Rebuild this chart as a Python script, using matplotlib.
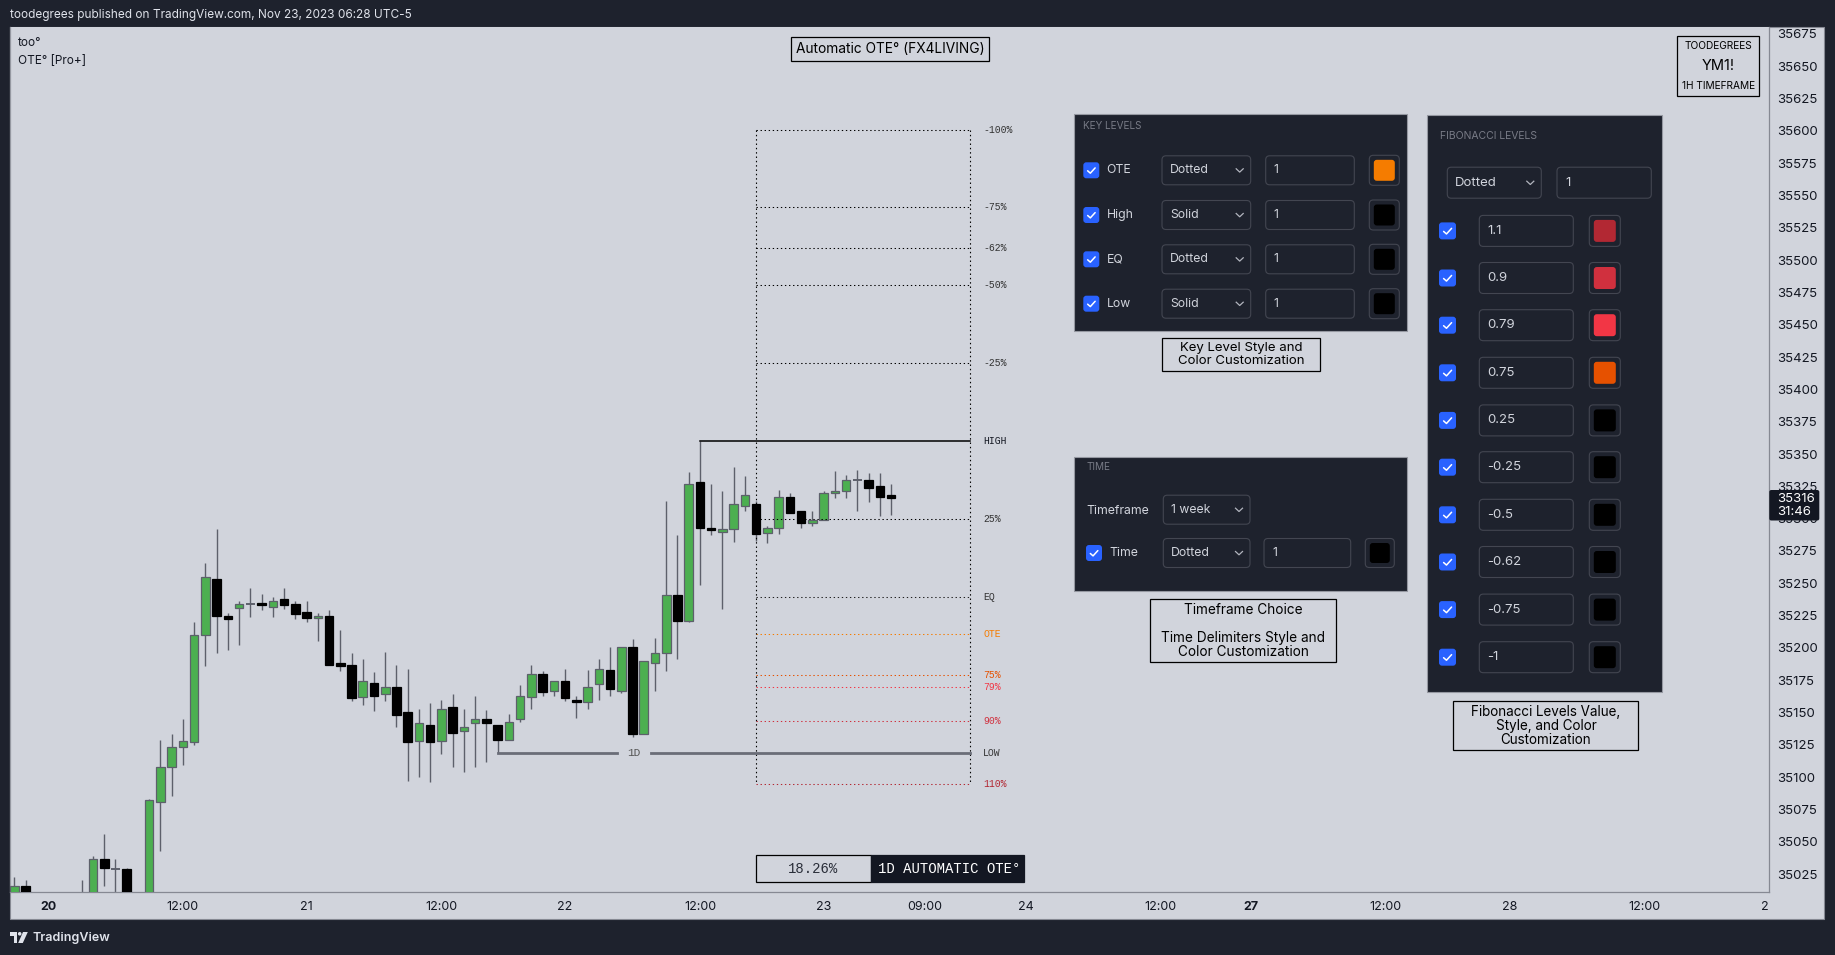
import matplotlib
matplotlib.use("Agg")
import matplotlib.pyplot as plt
from matplotlib.patches import Rectangle, FancyBboxPatch, Circle, Polygon

plt.rcParams['font.family'] = ['Inter', 'DejaVu Sans']

W, H = 1835, 955
DARK = '#1e222d'
DARKER = '#131722'
LIGHT = '#d1d4dc'
GREEN = '#4caf50'
WICK = '#5d606b'
TXT = '#d1d4dc'
MUTED = '#787b86'
MONO = 'Liberation Mono'

# hourly candles, index 0 = Nov 20 00:00 (UTC-5), one bar per trading hour
bar_index = list(range(-3, 76))
opens = [35005, 35016, 34998, 34992, 35000, 34996, 35003, 35008, 35037, 35029,
         35029, 34990, 35000, 35081, 35108, 35123, 35127, 35210, 35253, 35225,
         35231, 35234, 35235, 35232, 35238, 35234, 35228, 35223, 35225, 35188,
         35187, 35162, 35173, 35164, 35170, 35150, 35128, 35140, 35128, 35154,
         35136, 35142, 35145, 35140, 35129, 35145, 35162, 35180, 35167, 35174,
         35160, 35158, 35172, 35183, 35167, 35201, 35133, 35188, 35196, 35241,
         35221, 35328, 35293, 35290, 35292, 35310, 35311, 35289, 35293, 35317,
         35306, 35297, 35299, 35320, 35321, 35330, 35330, 35325, 35318]
highs = [35023, 35020, 35008, 35005, 35009, 35008, 35020, 35039, 35056, 35037,
         35030, 35008, 35083, 35129, 35133, 35145, 35220, 35266, 35292, 35227,
         35236, 35246, 35242, 35239, 35246, 35236, 35236, 35227, 35229, 35214,
         35196, 35191, 35181, 35197, 35187, 35184, 35153, 35157, 35160, 35164,
         35153, 35163, 35152, 35140, 35149, 35171, 35187, 35182, 35174, 35184,
         35163, 35183, 35191, 35201, 35201, 35207, 35190, 35208, 35314, 35287,
         35336, 35360, 35327, 35321, 35340, 35333, 35314, 35294, 35322, 35320,
         35306, 35306, 35321, 35337, 35334, 35338, 35335, 35335, 35327]
lows = [34995, 34990, 34985, 34980, 34988, 34985, 34995, 35000, 35016, 35005,
        34985, 34978, 34995, 35043, 35085, 35109, 35125, 35186, 35196, 35198,
        35202, 35224, 35229, 35224, 35230, 35222, 35220, 35205, 35187, 35182,
        35159, 35156, 35151, 35159, 35139, 35097, 35100, 35096, 35118, 35108,
        35104, 35108, 35112, 35119, 35129, 35143, 35153, 35163, 35163, 35159,
        35146, 35153, 35160, 35163, 35165, 35131, 35133, 35167, 35182, 35191,
        35220, 35249, 35287, 35230, 35282, 35306, 35283, 35281, 35288, 35304,
        35293, 35294, 35299, 35316, 35316, 35306, 35313, 35302, 35303]
closes = [35016, 34998, 34992, 35000, 34996, 35003, 35008, 35037, 35030, 35029,
          34990, 35000, 35082, 35108, 35123, 35128, 35210, 35255, 35225, 35222,
          35234, 35234, 35233, 35236, 35233, 35226, 35223, 35225, 35187, 35186,
          35161, 35174, 35163, 35170, 35148, 35127, 35142, 35127, 35153, 35134,
          35139, 35145, 35142, 35129, 35143, 35163, 35180, 35166, 35174, 35161,
          35158, 35170, 35184, 35168, 35201, 35133, 35190, 35196, 35241, 35221,
          35327, 35293, 35291, 35292, 35311, 35318, 35288, 35293, 35317, 35304,
          35297, 35299, 35320, 35321, 35330, 35330, 35324, 35317, 35316]

# indicator settings: previous daily session and the projection window
session_start, session_end = 40, 62
proj_start, proj_end = 63, 82
ote_ratio = 0.62
eq_ratio = 0.5

fib_values = [1.1, 0.9, 0.79, 0.75, 0.25, -0.25, -0.5, -0.62, -0.75, -1]
fib_colors = ['#b22833', '#d0303e', '#f23645', '#e65100', '#000000',
              '#000000', '#000000', '#000000', '#000000', '#000000']
fib_text_colors = ['#b22833', '#d0303e', '#f23645', '#e65100', '#333333',
                   '#333333', '#333333', '#333333', '#333333', '#333333']

key_levels = ['OTE', 'High', 'EQ', 'Low']
key_styles = ['Dotted', 'Solid', 'Dotted', 'Solid']
key_colors = ['#f57c00', '#000000', '#000000', '#000000']

price_ticks = [35025, 35050, 35075, 35100, 35125, 35150, 35175, 35200, 35225,
               35250, 35275, 35300, 35325, 35350, 35375, 35400, 35425, 35450,
               35475, 35500, 35525, 35550, 35575, 35600, 35625, 35650, 35675]
time_tick_pos = [0, 12, 23, 35, 46, 58, 69, 78, 87, 99, 107, 119, 130, 142, 152.7]
time_tick_lab = ['20', '12:00', '21', '12:00', '22', '12:00', '23', '09:00',
                 '24', '12:00', '27', '12:00', '28', '12:00', '2']

# ---------------------------------------------------------------- figure
fig = plt.figure(figsize=(W / 100, H / 100), dpi=100)
fig.patch.set_facecolor(DARK)

bg = fig.add_axes([0, 0, 1, 1])
bg.set_xlim(0, W)
bg.set_ylim(0, H)
bg.axis('off')
bg.set_zorder(0)
bg.add_patch(Rectangle((10, H - 919), 1814, 892, fc=LIGHT, ec='#868993', lw=0.8))

ax = fig.add_axes([10 / W, (H - 892) / H, 1759 / W, 865 / H])
ax.set_zorder(1)
ax.set_facecolor(LIGHT)
ax.set_xlim(-3.385, 153.11)
ax.set_ylim(35011.1, 35680.4)

# candles
for i, o, h, l, c in zip(bar_index, opens, highs, lows, closes):
    ax.vlines(i, l, h, color=WICK, lw=1.0, zorder=2)
    if c > o:
        ax.add_patch(Rectangle((i - 0.38, o), 0.76, c - o, fc=GREEN, ec=WICK, lw=0.9, zorder=3))
    elif c < o:
        ax.add_patch(Rectangle((i - 0.38, c), 0.76, o - c, fc='black', ec='black', lw=0.9, zorder=3))
    else:
        ax.hlines(o, i - 0.38, i + 0.38, color=WICK, lw=1.4, zorder=3)

# OTE projection
day_high = max(highs[session_start + 3:session_end + 4])
day_low = min(lows[session_start + 3:session_end + 4])
rng = day_high - day_low


def level(r):
    return day_high - r * rng


dot = (0, (1.3, 2.6))
for r, col in zip(fib_values, fib_colors):
    ax.plot([proj_start, proj_end], [level(r)] * 2, color=col, lw=0.75, ls=dot, zorder=4)
ax.plot([proj_start, proj_end], [level(eq_ratio)] * 2, color='#222222', lw=0.75, ls=dot, zorder=4)
ax.plot([proj_start, proj_end], [level(ote_ratio)] * 2, color='#f57c00', lw=0.75, ls=dot, zorder=4)
for xv in (proj_start, proj_end):
    ax.plot([xv, xv], [level(-1), level(1.1)], color='black', lw=0.8, ls=dot, zorder=4)

hi_bar = bar_index[highs.index(day_high)]
lo_bar = bar_index[lows.index(day_low)]
ax.plot([hi_bar, proj_end], [day_high] * 2, color='black', lw=1.1, zorder=4)
ax.plot([lo_bar, 50.6], [day_low] * 2, color='#6a6d78', lw=2.0, zorder=4)
ax.plot([53.6, proj_end], [day_low] * 2, color='#6a6d78', lw=2.0, zorder=4)
ax.text(52.1, day_low, '1D', family=MONO, fontsize=8, color='#555555',
        ha='center', va='center', zorder=5)

lx = proj_end + 1.2
for r, col in zip(fib_values, fib_text_colors):
    ax.text(lx, level(r), f"{round(r * 100)}%", family=MONO, fontsize=7,
            color=col, va='center', zorder=5)
ax.text(lx, day_high, 'HIGH', family=MONO, fontsize=7, color='#131722', va='center')
ax.text(lx, day_low, 'LOW', family=MONO, fontsize=7, color='#333333', va='center')
ax.text(lx, level(eq_ratio), 'EQ', family=MONO, fontsize=7, color='#333333', va='center')
ax.text(lx, level(ote_ratio), 'OTE', family=MONO, fontsize=7, color='#f57c00', va='center')

# axes cosmetics
ax.yaxis.tick_right()
ax.set_yticks(price_ticks)
ax.set_yticklabels([str(p) for p in price_ticks])
ax.tick_params(axis='y', length=0, pad=5.8, labelsize=9.5, labelcolor='#131722')
ax.set_xticks(time_tick_pos)
ax.set_xticklabels(time_tick_lab)
ax.tick_params(axis='x', length=0, pad=6.7, labelsize=9, labelcolor='#131722')
for t in ax.get_xticklabels():
    if t.get_text() in ('20', '27'):
        t.set_fontweight('bold')
ax.spines['top'].set_visible(False)
ax.spines['left'].set_color('#9598a1')
ax.spines['bottom'].set_color('#868993')
ax.spines['right'].set_color('#868993')
for s in ('left', 'bottom', 'right'):
    ax.spines[s].set_linewidth(0.9)

# ---------------------------------------------------------------- overlay
ov = fig.add_axes([0, 0, 1, 1], facecolor='none')
ov.set_xlim(0, W)
ov.set_ylim(0, H)
ov.axis('off')
ov.set_zorder(2)


def rbox(x0, y0, x1, y1, fc, ec='none', lw=0.8, r=0.0, z=3):
    if r > 0:
        p = FancyBboxPatch((x0, H - y1), x1 - x0, y1 - y0,
                           boxstyle=f"round,pad=0,rounding_size={r}",
                           fc=fc, ec=ec, lw=lw, zorder=z)
    else:
        p = Rectangle((x0, H - y1), x1 - x0, y1 - y0, fc=fc, ec=ec, lw=lw, zorder=z)
    ov.add_patch(p)


def label(x, y, s, size=9, color='#131722', ha='left', **kw):
    ov.text(x, H - y, s, fontsize=size, color=color, ha=ha, va='center', zorder=6, **kw)


def checkbox(x0, cy, s):
    rbox(x0, cy - s / 2, x0 + s, cy + s / 2, '#2962ff', r=3, z=4)
    ov.plot([x0 + 0.27 * s, x0 + 0.44 * s, x0 + 0.74 * s],
            [H - (cy + 0.03 * s), H - (cy + 0.18 * s), H - (cy - 0.15 * s)],
            color='white', lw=1.1, zorder=5, solid_capstyle='round')


def dropdown(x0, x1, cy, h, s, size=8.8):
    rbox(x0, cy - h / 2, x1, cy + h / 2, DARK, '#434651', lw=0.8, r=4, z=4)
    label(x0 + 8, cy, s, size=size, color=TXT)
    cx = x1 - 11
    ov.plot([cx - 3.5, cx, cx + 3.5], [H - (cy - 1.5), H - (cy + 1.8), H - (cy - 1.5)],
            color='#b2b5be', lw=0.9, zorder=5)


def field(x0, x1, cy, h, s, size=8.8):
    rbox(x0, cy - h / 2, x1, cy + h / 2, DARK, '#434651', lw=0.8, r=4, z=4)
    label(x0 + 8, cy, s, size=size, color=TXT)


def swatch(x0, cy, s, col):
    rbox(x0, cy - s / 2, x0 + s, cy + s / 2, DARK, '#434651', lw=0.8, r=4, z=4)
    rbox(x0 + 4.5, cy - s / 2 + 4.5, x0 + s - 4.5, cy + s / 2 - 4.5, col, r=3, z=5)


# header / footer
label(9.6, 15, 'toodegrees published on TradingView.com, Nov 23, 2023 06:28 UTC-5',
      size=8.5, color='#e0e3eb')
label(18, 43, 'too°', size=8.5)
label(18, 61, 'OTE° [Pro+]', size=8.5)
logo = '#e0e3eb'
ov.add_patch(Polygon([(9.5, H - 932), (17, H - 932), (17, H - 943), (13.5, H - 943),
                      (13.5, H - 935.5), (9.5, H - 935.5)], fc=logo, ec='none', zorder=5))
ov.add_patch(Circle((19.7, H - 933.8), 1.8, fc=logo, ec='none', zorder=5))
ov.add_patch(Polygon([(23, H - 932), (27.8, H - 932), (22.8, H - 943), (18.2, H - 943)],
                     fc=logo, ec='none', zorder=5))
label(32.5, 937.5, 'TradingView', size=9, color='#e0e3eb', fontweight='semibold')

# title boxes
rbox(791, 37.5, 989, 61, LIGHT, 'black', lw=0.9)
label(890, 49.2, 'Automatic OTE° (FX4LIVING)', size=9.9, ha='center', color='black')
rbox(1677.3, 36, 1759.3, 95.7, LIGHT, 'black', lw=0.9)
label(1718.3, 45.7, 'TOODEGREES', size=7.3, ha='center', color='black')
label(1718.3, 66.5, 'YM1!', size=10.5, ha='center', color='black')
label(1718.3, 86.3, '1H TIMEFRAME', size=7.3, ha='center', color='black')

# last price tag
rbox(1769.3, 490, 1819.3, 520.5, DARKER, r=2, z=4)
label(1777, 498.5, str(closes[-1]), size=9.5, color='white')
label(1777, 512, '31:46', size=9.5, color='white')

# bottom table
rbox(756, 855, 871, 882.3, LIGHT, 'black', lw=0.9)
rbox(871, 855, 1023.7, 882.3, DARKER, DARKER, lw=0.9)
label(813.3, 868.7, '18.26%', size=10, family=MONO, color='#2a2e39', ha='center')
label(949.5, 868.7, '1D AUTOMATIC OTE°', size=10, family=MONO, color='white', ha='center')

# KEY LEVELS panel
rbox(1074, 114, 1406.7, 330.7, DARK, '#9598a1', lw=0.8)
label(1083.3, 126, 'KEY LEVELS', size=7.2, color=MUTED)
for name, style, col, cy in zip(key_levels, key_styles, key_colors, [170.3, 215, 259.3, 303.7]):
    checkbox(1083.3, cy, 16)
    label(1106.7, cy, name, size=8.8, color=TXT)
    dropdown(1162, 1250.7, cy, 29, style)
    field(1265.7, 1354.3, cy, 29, '1')
    swatch(1369.3, cy, 30, col)
rbox(1161.7, 337.7, 1320.3, 371, LIGHT, 'black', lw=0.9)
label(1241, 348.3, 'Key Level Style and', size=9.5, ha='center', color='black')
label(1241, 361.5, 'Color Customization', size=9.5, ha='center', color='black')

# TIME panel
rbox(1074, 457.3, 1406.7, 591.3, DARK, '#9598a1', lw=0.8)
label(1086.7, 466.7, 'TIME', size=7.2, color=MUTED)
label(1086.7, 510.7, 'Timeframe', size=8.8, color=TXT)
dropdown(1163.3, 1250, 509.7, 29, '1 week')
checkbox(1086, 553, 16)
label(1109.3, 553, 'Time', size=8.8, color=TXT)
dropdown(1163.3, 1250, 553, 29, 'Dotted')
field(1264, 1350.7, 553, 29, '1')
swatch(1365.3, 553, 29, '#000000')
rbox(1150, 599.3, 1335.7, 661.7, LIGHT, 'black', lw=0.9)
label(1243, 610, 'Timeframe Choice', size=9.8, ha='center', color='black')
label(1243, 638.3, 'Time Delimiters Style and', size=9.8, ha='center', color='black')
label(1243, 651.5, 'Color Customization', size=9.8, ha='center', color='black')

# FIBONACCI LEVELS panel
rbox(1426.6, 114.7, 1661.8, 691.6, DARK, '#9598a1', lw=0.8)
label(1440, 136, 'FIBONACCI LEVELS', size=7.5, color=MUTED)
dropdown(1447.3, 1541.3, 182.7, 31, 'Dotted', size=9.5)
field(1557, 1651.3, 182.7, 31, '1', size=9.5)
fib_rows = [230.9, 278.0, 325.2, 372.8, 420.4, 467.2, 514.8, 562.0, 609.6, 657.2]
for v, col, cy in zip(fib_values, fib_colors, fib_rows):
    checkbox(1439, cy, 17)
    field(1479.3, 1573.3, cy, 31, f"{v:g}", size=9.5)
    swatch(1589.3, cy, 31, col)
rbox(1453.3, 701, 1638.3, 749.5, LIGHT, 'black', lw=0.9)
label(1546, 712.2, 'Fibonacci Levels Value,', size=9.7, ha='center', color='black')
label(1546, 726.1, 'Style, and Color', size=9.7, ha='center', color='black')
label(1546, 740, 'Customization', size=9.7, ha='center', color='black')

fig.savefig('out.png', dpi=100, facecolor=fig.get_facecolor())
